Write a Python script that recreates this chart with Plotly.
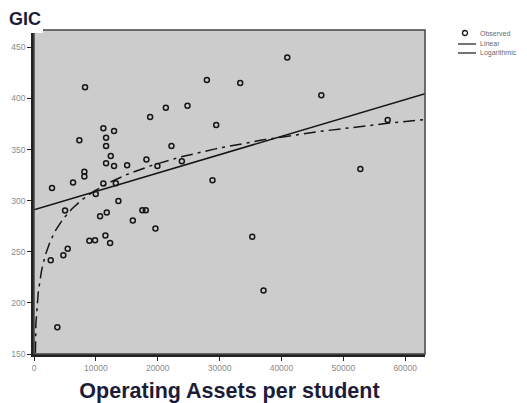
import numpy as np
import plotly.graph_objects as go

# Observed data (Operating assets per student, GIC)
assets = [8250, 27940, 21310, 24810, 18770, 29450, 11210, 12940, 11650, 7330,
          11650, 22220, 12410, 18170, 11650, 12940, 15050, 19950, 23900, 8140,
          8140, 28850, 2910, 6310, 11210, 13220, 40940, 33330, 46440, 57170,
          52750, 9980, 13640, 5020, 17520, 18070, 11760, 10680, 15970, 19630,
          11540, 8950, 9870, 12300, 5450, 4740, 2700, 3770, 35280, 37100]
gic = [410.9, 418.1, 391.0, 393.0, 381.9, 374.1, 370.8, 368.2, 361.7, 359.1,
       353.6, 353.6, 343.8, 340.2, 336.6, 334.0, 334.6, 334.0, 338.5, 328.2,
       323.6, 319.9, 312.5, 317.7, 316.7, 317.0, 440.2, 415.2, 403.1, 379.0,
       331.1, 306.6, 299.8, 290.3, 290.6, 290.6, 288.4, 284.7, 280.5, 272.7,
       265.9, 260.7, 261.3, 258.7, 252.9, 246.6, 241.7, 176.2, 264.6, 212.1]

x_ticks = [0, 10000, 20000, 30000, 40000, 50000, 60000]
y_ticks = [150, 200, 250, 300, 350, 400, 450]
x_range = [0, 63200]
y_range = [150, 467]
legend_labels = ["Observed", "Linear", "Logarithmic"]

xa = np.array(assets, dtype=float)
ya = np.array(gic, dtype=float)

# Fitted curves (computed from the observed data)
lin_b, lin_a = np.polyfit(xa, ya, 1)
log_b, log_a = np.polyfit(np.log(xa), ya, 1)

x_lin = np.linspace(x_range[0], x_range[1], 50)
y_lin = lin_a + lin_b * x_lin
x_log = np.geomspace(20, x_range[1], 400)
y_log = log_a + log_b * np.log(x_log)

INK = "#161616"
fig = go.Figure()
fig.add_trace(go.Scatter(
    x=assets, y=gic, mode="markers", name=legend_labels[0],
    marker=dict(symbol="circle-open", size=5, color=INK, line=dict(width=1.5)),
))
fig.add_trace(go.Scatter(
    x=x_lin, y=y_lin, mode="lines", name=legend_labels[1],
    line=dict(color=INK, width=1.5),
))
fig.add_trace(go.Scatter(
    x=x_log, y=y_log, mode="lines", name=legend_labels[2],
    line=dict(color=INK, width=1.5, dash="12px,5px,3px,5px"),
))

tick_font = dict(family="Liberation Sans, Arial, sans-serif", size=8.5, color="#8a8a8a")
title_font = dict(family="Liberation Sans, Arial, sans-serif", size=21.5, color="#1c1c3a")
leg_font = dict(family="Liberation Sans, Arial, sans-serif", size=7, color="#6a6a6a")

# manual compact legend (paper coordinates beyond the plot area)
lx0, lx1, ltext = 1.0844, 1.1304, 1.1355
ly = [0.9907, 0.9568, 0.9290]
shapes = [
    dict(type="rect", xref="paper", yref="paper", x0=0, y0=0, x1=1, y1=1,
         line=dict(color="#444444", width=1.5), fillcolor="rgba(0,0,0,0)", layer="above"),
    # white patch behind the "GIC" label, hiding the frame corner
    dict(type="rect", xref="paper", yref="paper", x0=-0.03, x1=0.023, y0=0.9907, y1=1.02,
         line=dict(width=0), fillcolor="white", layer="above"),
    dict(type="circle", xref="paper", yref="paper",
         x0=1.1023 - 0.0064, x1=1.1023 + 0.0064, y0=ly[0] - 0.0077, y1=ly[0] + 0.0077,
         line=dict(color=INK, width=1.3)),
    dict(type="line", xref="paper", yref="paper", x0=lx0, x1=lx1, y0=ly[1], y1=ly[1],
         line=dict(color=INK, width=1.2)),
    dict(type="line", xref="paper", yref="paper", x0=lx0, x1=lx1, y0=ly[2], y1=ly[2],
         line=dict(color=INK, width=1.2)),
]
annotations = [dict(text="<b>GIC</b>", xref="paper", yref="paper", x=-0.066, y=1.0664,
                    xanchor="left", yanchor="top", showarrow=False, borderpad=0,
                    font=dict(family="Liberation Sans, Arial, sans-serif", size=18, color="#1c1c3a"))]
for lab, yy in zip(legend_labels, ly):
    annotations.append(dict(text=lab, xref="paper", yref="paper", x=ltext, y=yy,
                            xanchor="left", yanchor="middle", showarrow=False, font=leg_font))

# the page body adds an 8px offset, so the figure is 8px smaller than the window
fig.update_layout(
    width=519, height=395,
    margin=dict(l=26, r=102, t=22, b=49),
    paper_bgcolor="white",
    plot_bgcolor="#cccccc",
    showlegend=False,
    xaxis=dict(
        range=x_range, tickvals=x_ticks, ticktext=[str(v) for v in x_ticks],
        showgrid=False, zeroline=False, ticks="outside", ticklen=4, tickcolor="#222",
        showline=True, linecolor="#222", linewidth=2.5, automargin=False,
        tickfont=tick_font,
        title=dict(text="<b>Operating Assets per student</b>", font=title_font, standoff=11),
    ),
    yaxis=dict(
        range=y_range, tickvals=y_ticks, ticktext=[str(v) for v in y_ticks],
        showgrid=False, zeroline=False, ticks="outside", ticklen=4, tickcolor="#222",
        showline=True, linecolor="#222", linewidth=2.5, automargin=False,
        tickfont=tick_font,
    ),
    shapes=shapes,
    annotations=annotations,
)

fig.write_html("out.html")
